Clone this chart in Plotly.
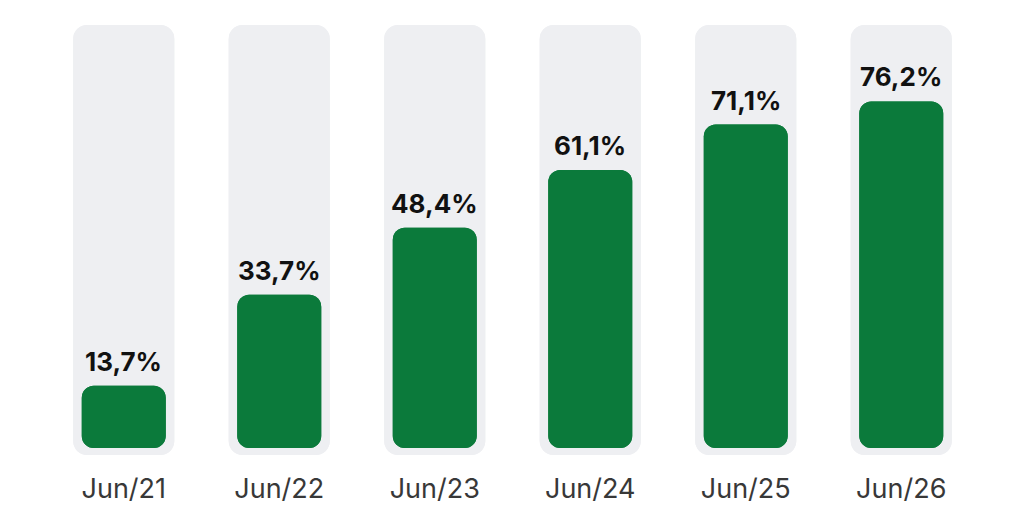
import plotly.graph_objects as go

months = ["Jun/21", "Jun/22", "Jun/23", "Jun/24", "Jun/25", "Jun/26"]
shares = [13.7, 33.7, 48.4, 61.1, 71.1, 76.2]
labels = ["13,7%", "33,7%", "48,4%", "61,1%", "71,1%", "76,2%"]

GREEN = "#0b7a3b"
TRACK = "#eeeff2"
Y_LO, Y_HI = -1.54, 93

fig = go.Figure()

# track behind each bar; two opposite bars so both ends get rounded
track_h = [Y_HI - Y_LO] * len(months)
fig.add_trace(go.Bar(x=months, y=track_h, base=[Y_LO] * len(months), width=0.65,
                     marker=dict(color=TRACK, cornerradius=14, line_width=0)))
fig.add_trace(go.Bar(x=months, y=[-h for h in track_h], base=[Y_HI] * len(months), width=0.65,
                     marker=dict(color=TRACK, cornerradius=14, line_width=0)))

fig.add_trace(go.Bar(x=months, y=shares, base=[0] * len(shares), width=0.54,
                     marker=dict(color=GREEN, cornerradius=12, line_width=0)))
fig.add_trace(go.Bar(x=months, y=[-v for v in shares], base=shares, width=0.54,
                     marker=dict(color=GREEN, cornerradius=12, line_width=0)))

for m, v, t in zip(months, shares, labels):
    fig.add_annotation(x=m, y=v, text=f"<b>{t}</b>", showarrow=False,
                       yanchor="bottom", yshift=7,
                       font=dict(family="Inter", size=26, color="#111111"))

fig.update_layout(
    width=1024, height=532,
    margin=dict(l=38, r=53, t=17, b=85),
    barmode="overlay",
    showlegend=False,
    hovermode=False,
    plot_bgcolor="white",
    paper_bgcolor="white",
    font=dict(family="Inter"),
)
fig.update_xaxes(range=[-0.5, 5.5], showgrid=False, zeroline=False, showline=False,
                 ticks="", tickfont=dict(size=27, color="#383838"), ticklabelstandoff=15)
fig.update_yaxes(range=[Y_LO, Y_HI], visible=False)

fig.write_html("out.html")
